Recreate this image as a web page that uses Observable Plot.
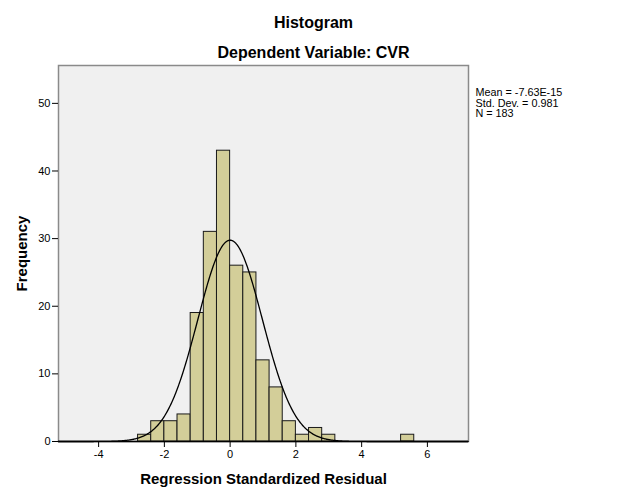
<!DOCTYPE html>
<html>
<head>
<meta charset="utf-8">
<script src="https://cdn.jsdelivr.net/npm/d3@7"></script>
<script src="https://cdn.jsdelivr.net/npm/@observablehq/plot@0.6"></script>
<style>
  html, body { margin: 0; padding: 0; background: #fff; }
  svg { display: block; }
</style>
</head>
<body>
<div id="chart"></div>
<script>
// Histogram bins (lower and upper edges) and counts
const binLo  = [-2.8, -2.4, -2.0, -1.6, -1.2, -0.8, -0.4, 0.0, 0.4, 0.8, 1.2, 1.6, 2.0, 2.4, 2.8, 5.2];
const binHi  = [-2.4, -2.0, -1.6, -1.2, -0.8, -0.4, 0.0, 0.4, 0.8, 1.2, 1.6, 2.0, 2.4, 2.8, 3.2, 5.6];
const counts = [1, 3, 3, 4, 19, 31, 43, 26, 25, 12, 8, 3, 1, 2, 1, 1];

// Summary statistics as printed
const statMean = -7.63e-15;
const statSD = 0.981;
const statN = 183;
const binWidth = 0.4;
const statLines = ["Mean = -7.63E-15", "Std. Dev. = 0.981", "N = 183"];

const xTicks = [-4, -2, 0, 2, 4, 6];
const yTicks = [0, 10, 20, 30, 40, 50];

const bars = binLo.map((lo, i) => ({x1: lo, x2: binHi[i], y: counts[i]}));

// Fitted normal curve from the printed mean, SD and N
const xs = d3.range(-5.22, 7.26, 0.02);
const curve = xs.map(x => ({
  x,
  y: statN * binWidth / (statSD * Math.sqrt(2 * Math.PI)) *
     Math.exp(-0.5 * ((x - statMean) / statSD) ** 2)
}));

const font = "Arial, 'Liberation Sans', sans-serif";

const chart = Plot.plot({
  width: 626,
  height: 501,
  marginLeft: 58,
  marginRight: 158,
  marginTop: 65,
  marginBottom: 60,
  style: {fontFamily: font, fontSize: "11px", background: "#fff", color: "#000"},
  x: {domain: [-5.22, 7.25]},
  y: {domain: [0, 55.6]},
  marks: [
    Plot.frame({fill: "#f0f0f0", stroke: "#8a8a8a", strokeWidth: 1.5}),
    Plot.rectY(bars, {x1: "x1", x2: "x2", y: "y", fill: "#d3ce99", stroke: "#1a1a1a", strokeWidth: 1, inset: 0}),
    Plot.line(curve, {x: "x", y: "y", stroke: "#000", strokeWidth: 1.3}),
    Plot.ruleY([0], {stroke: "#000", strokeWidth: 1.3}),
    Plot.axisY({ticks: yTicks, tickSize: 6, tickPadding: 2, label: null, fontSize: 11}),
    Plot.axisX({ticks: xTicks, tickSize: 6, tickPadding: 3, label: null, fontSize: 11,
      tickFormat: d => d < 0 ? "-" + Math.abs(d) : String(d)}),
    Plot.text(["Histogram"], {frameAnchor: "top", dx: 50, dy: -43, lineAnchor: "middle", fontSize: 16, fontWeight: "bold", fill: "#000"}),
    Plot.text(["Dependent Variable: CVR"], {frameAnchor: "top", dx: 50, dy: -13, lineAnchor: "middle", fontSize: 16, fontWeight: "bold", fill: "#000"}),
    Plot.text(["Frequency"], {frameAnchor: "left", dx: -36, rotate: -90, textAnchor: "middle", lineAnchor: "middle", fontSize: 15, fontWeight: "bold", fill: "#000"}),
    Plot.text(["Regression Standardized Residual"], {frameAnchor: "bottom", dy: 38, lineAnchor: "middle", fontSize: 15, fontWeight: "bold", fill: "#000"}),
    ...statLines.map((s, i) => Plot.text([s], {frameAnchor: "top-right", dx: 7, dy: 27.5 + i * 10.5, textAnchor: "start", lineAnchor: "middle", fontSize: 10.8, fill: "#000"}))
  ]
});
document.getElementById("chart").appendChild(chart);
</script>
</body>
</html>
